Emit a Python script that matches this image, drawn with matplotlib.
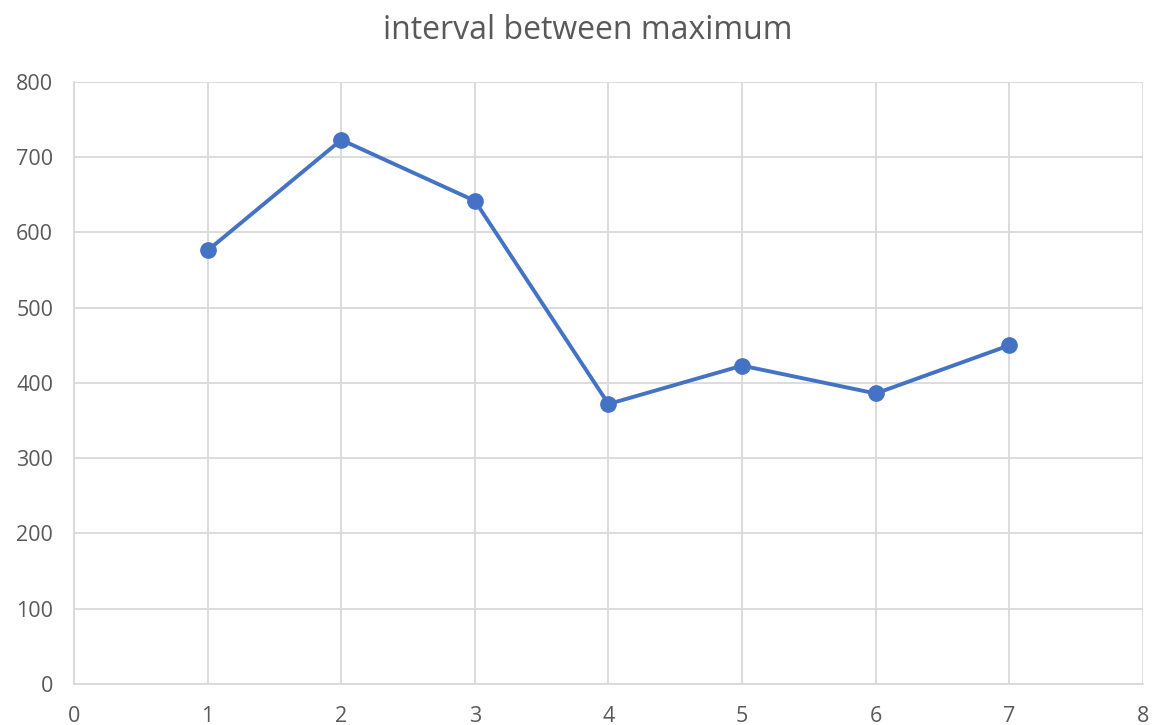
import matplotlib
matplotlib.use("Agg")
import matplotlib.pyplot as plt

x_values = [1, 2, 3, 4, 5, 6, 7]
y_values = [576, 723, 642, 372, 423, 386, 450]
x_ticks = [0, 1, 2, 3, 4, 5, 6, 7, 8]
y_ticks = [0, 100, 200, 300, 400, 500, 600, 700, 800]
title = "interval between maximum"

line_color = "#4472C4"
grid_color = "#D9D9D9"
text_color = "#595959"

plt.rcParams["font.family"] = ["Open Sans", "DejaVu Sans"]

fig = plt.figure(figsize=(11.53, 7.25), dpi=100)
ax = fig.add_axes([0.0642, 0.0566, 0.9271, 0.8304])

ax.plot(x_values, y_values, color=line_color, linewidth=2.8, marker="o",
        markersize=11, markerfacecolor=line_color, markeredgecolor=line_color,
        zorder=3)

ax.set_xlim(0, 8)
ax.set_ylim(0, 800)
ax.set_xticks(x_ticks)
ax.set_yticks(y_ticks)
ax.grid(True, color=grid_color, linewidth=1.3, zorder=0)
ax.set_axisbelow(True)

for side in ("top", "right"):
    ax.spines[side].set_visible(False)
for side in ("left", "bottom"):
    ax.spines[side].set_color(grid_color)
    ax.spines[side].set_linewidth(1.3)

ax.tick_params(length=0, labelsize=15.5, colors=text_color)
ax.tick_params(axis="x", pad=16)
ax.tick_params(axis="y", pad=15)

fig.text(0.510, 0.958, title, ha="center", va="center", fontsize=23, color=text_color)

fig.savefig("out.png", dpi=100, facecolor="white")
